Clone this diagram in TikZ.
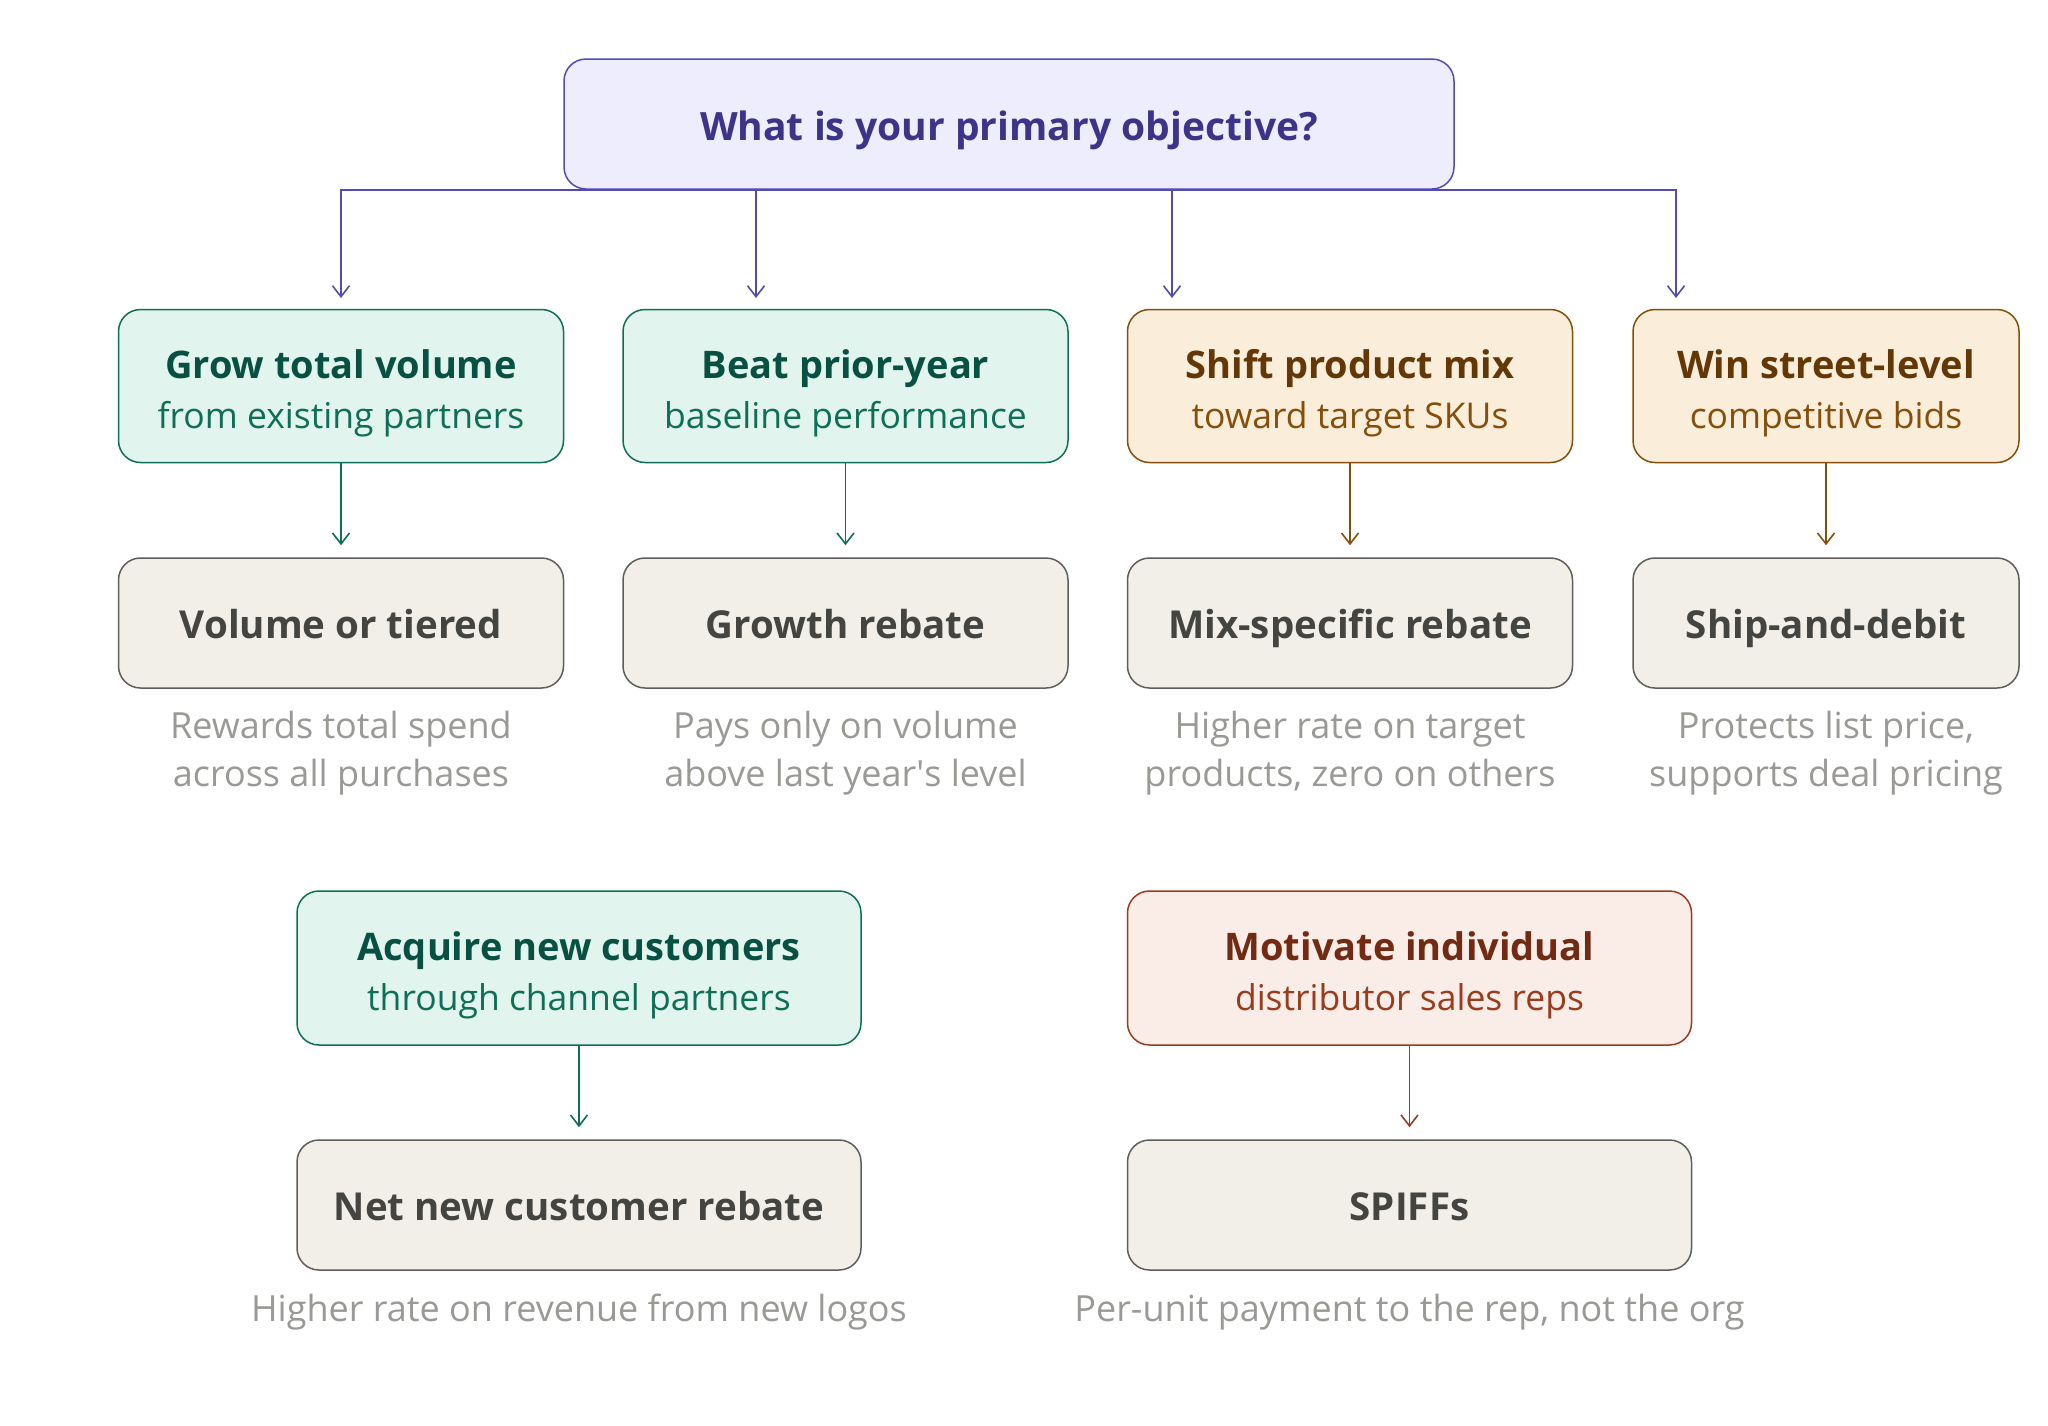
\documentclass[tikz,border=0pt]{standalone}
\usepackage{fontspec}
\setmainfont{Open Sans}
\usetikzlibrary{arrows.meta}
\definecolor{qfill}{HTML}{EEEDFE}
\definecolor{qline}{HTML}{534AB7}
\definecolor{qtext}{HTML}{3C3489}
\definecolor{gfill}{HTML}{E1F5EE}
\definecolor{gline}{HTML}{0F6E56}
\definecolor{gtitle}{HTML}{085041}
\definecolor{ofill}{HTML}{FAEEDA}
\definecolor{oline}{HTML}{854F0B}
\definecolor{otitle}{HTML}{633806}
\definecolor{rfill}{HTML}{FAECE7}
\definecolor{rline}{HTML}{993C1D}
\definecolor{rtitle}{HTML}{712B13}
\definecolor{nfill}{HTML}{F1EFE8}
\definecolor{nline}{HTML}{5F5E5A}
\definecolor{ntext}{HTML}{444441}
\definecolor{capc}{HTML}{9A9995}
\newcommand\bxhead[2]{{\color{#1}\fontsize{38}{50}\selectfont\bfseries #2}}
\tikzset{
  box/.style={rectangle, rounded corners=22pt, line width=1.5pt, align=center, inner sep=0pt, minimum height=153pt, minimum width=445pt},
  twoline/.style={box, text height=84pt, text depth=0pt, font=\fontsize{35.5}{50}\selectfont},
  qbox/.style={box, fill=qfill, draw=qline, text=qtext, minimum width=890pt, minimum height=130pt, text height=32pt, text depth=0pt, font=\fontsize{39}{48}\selectfont\bfseries},
  gbox/.style={twoline, fill=gfill, draw=gline, text=gline},
  obox/.style={twoline, fill=ofill, draw=oline, text=oline},
  rbox/.style={twoline, fill=rfill, draw=rline, text=rline},
  nbox/.style={box, fill=nfill, draw=nline, text=ntext, minimum height=130pt, text height=30pt, text depth=0pt, font=\fontsize{38.5}{48}\selectfont\bfseries},
  captxt/.style={align=center, text=capc, inner sep=0pt, font=\fontsize{36}{48}\selectfont},
  qarr/.style={draw=qline, line width=1.6pt, -{Straight Barb[length=11pt,width=17pt]}},
  carr/.style={line width=1.6pt, -{Straight Barb[length=11pt,width=17pt]}},
}
\begin{document}
\begin{tikzpicture}[x=1pt,y=-1pt]
\fill[white] (0,0) rectangle (2048,1425);
\useasboundingbox (0,0) rectangle (2048,1425);
% top question
\node[qbox] (q) at (1009,124) {What is your primary objective?};
% row 1 objectives
\node[gbox] (o1) at (341,386) {\bxhead{gtitle}{Grow total volume}\\from existing partners};
\node[gbox] (o2) at (845.5,386) {\bxhead{gtitle}{Beat prior-year}\\baseline performance};
\node[obox] (o3) at (1350,386) {\bxhead{otitle}{Shift product mix}\\toward target SKUs};
\node[obox, minimum width=386pt] (o4) at (1826,386) {\bxhead{otitle}{Win street-level}\\competitive bids};
% row 2 results
\node[nbox] (r1) at (341,623) {Volume or tiered};
\node[nbox] (r2) at (845.5,623) {Growth rebate};
\node[nbox] (r3) at (1350,623) {Mix-specific rebate};
\node[nbox, minimum width=386pt] (r4) at (1826,623) {Ship-and-debit};
% captions
\node[captxt] (c1) at (341,753) {Rewards total spend\\across all purchases};
\node[captxt] (c2) at (845.5,753) {Pays only on volume\\above last year\textquotesingle s level};
\node[captxt] (c3) at (1350,753) {Higher rate on target\\products, zero on others};
\node[captxt] (c4) at (1826,753) {Protects list price,\\supports deal pricing};
% row 3
\node[gbox, minimum width=564pt, minimum height=154pt] (o5) at (579,968) {\bxhead{gtitle}{Acquire new customers}\\through channel partners};
\node[rbox, minimum width=564pt, minimum height=154pt] (o6) at (1409.5,968) {\bxhead{rtitle}{Motivate individual}\\distributor sales reps};
\node[nbox, minimum width=564pt] (r5) at (579,1205) {Net new customer rebate};
\node[nbox, minimum width=564pt] (r6) at (1409.5,1205) {SPIFFs};
\node[captxt] (c5) at (579,1312) {Higher rate on revenue from new logos};
\node[captxt] (c6) at (1409.5,1312) {Per-unit payment to the rep, not the org};
% bus endpoints
\coordinate (e1) at (341,298);
\coordinate (e2) at (756,298);
\coordinate (e3) at (1172,298);
\coordinate (e4) at (1676,298);
\draw[qarr] (q.south) -| (e1);
\draw[qarr] (q.south) -| (e2);
\draw[qarr] (q.south) -| (e3);
\draw[qarr] (q.south) -| (e4);
% objective -> result
\draw[carr, draw=gline] (o1.south) -- ([yshift=12pt]r1.north);
\draw[carr, draw=gline] (o2.south) -- ([yshift=12pt]r2.north);
\draw[carr, draw=oline] (o3.south) -- ([yshift=12pt]r3.north);
\draw[carr, draw=oline] (o4.south) -- ([yshift=12pt]r4.north);
\draw[carr, draw=gline] (o5.south) -- ([yshift=12pt]r5.north);
\draw[carr, draw=rline] (o6.south) -- ([yshift=12pt]r6.north);
\end{tikzpicture}
\end{document}
